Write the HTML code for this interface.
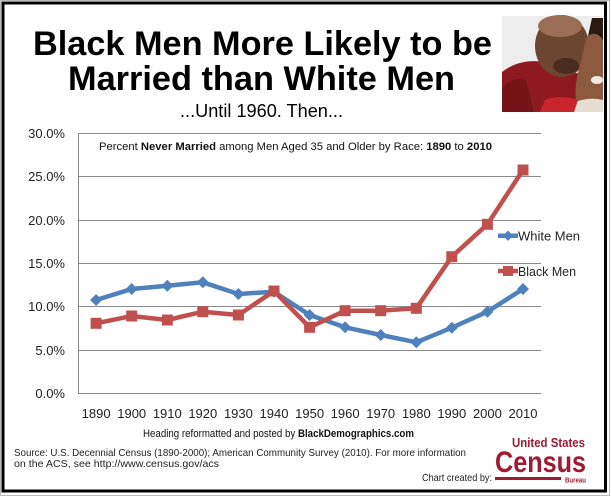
<!DOCTYPE html>
<html><head><meta charset="utf-8"><style>
html,body{margin:0;padding:0;background:#fff;}
svg{display:block;}
text{font-family:"Liberation Sans",Arial,sans-serif;}
</style></head><body>
<svg width="611" height="500" viewBox="0 0 611 500" xmlns="http://www.w3.org/2000/svg">
<rect x="0" y="0" width="611" height="500" fill="#fff"/>
<rect x="0.5" y="0.5" width="609" height="495" fill="none" stroke="#bbb" stroke-width="1"/>
<rect x="3" y="3" width="602.5" height="488" fill="none" stroke="#000" stroke-width="3"/>

<!-- Title -->
<text x="33" y="55" font-size="34" font-weight="bold" textLength="459" lengthAdjust="spacingAndGlyphs">Black Men More Likely to be</text>
<text x="68" y="90" font-size="34" font-weight="bold" textLength="387" lengthAdjust="spacingAndGlyphs">Married than White Men</text>
<text x="180" y="117" font-size="18" textLength="163" lengthAdjust="spacingAndGlyphs">...Until 1960. Then...</text>

<!-- Photo -->
<g>
<rect x="502" y="16" width="101" height="96" fill="#ededed"/>
<path d="M502 72 Q520 58 545 62 L585 76 L588 112 L502 112 Z" fill="#8e1a1f"/>
<path d="M502 112 L502 88 Q512 76 526 80 L534 112 Z" fill="#741418"/>
<ellipse cx="562" cy="46" rx="27" ry="31" fill="#6d4630"/>
<ellipse cx="560" cy="26" rx="22" ry="11" fill="#9a6d55"/>
<ellipse cx="566" cy="66" rx="13" ry="8" fill="#4a2c1f"/>
<path d="M586 38 Q598 26 603 34 L603 112 L578 112 Q572 90 580 66 Z" fill="#8c5a3e"/>
<path d="M592 18 L603 18 L603 40 Q596 30 588 36 Z" fill="#2a1a14"/>
<ellipse cx="597" cy="80" rx="6" ry="4" fill="#f3e9e0"/>
<path d="M570 104 Q588 96 603 100 L603 112 L566 112 Z" fill="#e6ddd5"/>
<path d="M545 100 Q560 94 578 100 L574 112 L540 112 Z" fill="#c8262c"/>
</g>

<!-- Gridlines -->
<g stroke="#8a8a8a" stroke-width="1">
<line x1="78" y1="133.5" x2="541" y2="133.5"/>
<line x1="78" y1="176.5" x2="541" y2="176.5"/>
<line x1="78" y1="220.5" x2="541" y2="220.5"/>
<line x1="78" y1="263.5" x2="541" y2="263.5"/>
<line x1="78" y1="306.5" x2="541" y2="306.5"/>
<line x1="78" y1="350.5" x2="541" y2="350.5"/>
<line x1="78" y1="393.5" x2="541" y2="393.5"/>
<line x1="78.5" y1="133" x2="78.5" y2="394"/>
</g>

<!-- Y labels -->
<g font-size="13" fill="#222" text-anchor="end">
<text x="65" y="138">30.0%</text>
<text x="65" y="181">25.0%</text>
<text x="65" y="225">20.0%</text>
<text x="65" y="268">15.0%</text>
<text x="65" y="311">10.0%</text>
<text x="65" y="355">5.0%</text>
<text x="65" y="398">0.0%</text>
</g>

<!-- X labels -->
<g font-size="13" fill="#222" text-anchor="middle">
<text x="96.1" y="418">1890</text>
<text x="131.7" y="418">1900</text>
<text x="167.3" y="418">1910</text>
<text x="202.8" y="418">1920</text>
<text x="238.4" y="418">1930</text>
<text x="274" y="418">1940</text>
<text x="309.6" y="418">1950</text>
<text x="345.1" y="418">1960</text>
<text x="380.7" y="418">1970</text>
<text x="416.3" y="418">1980</text>
<text x="451.8" y="418">1990</text>
<text x="487.4" y="418">2000</text>
<text x="523" y="418">2010</text>
</g>

<!-- Chart title -->
<text x="99" y="150" font-size="11" fill="#111" textLength="393" lengthAdjust="spacingAndGlyphs">Percent <tspan font-weight="bold">Never Married</tspan> among Men Aged 35 and Older by Race: <tspan font-weight="bold">1890</tspan> to <tspan font-weight="bold">2010</tspan></text>

<!-- White series -->
<polyline fill="none" stroke="#4f81bd" stroke-width="4.5" stroke-linejoin="round"
 points="96.1,300 131.7,289 167.3,285.7 202.8,282.3 238.4,294 274,291.7 309.6,315 345.1,327.3 380.7,335 416.3,342.3 451.8,327.7 487.4,311.7 523,289"/>
<g fill="#4f81bd">
<path d="M96.1 294 l6 6 l-6 6 l-6 -6z"/>
<path d="M131.7 283 l6 6 l-6 6 l-6 -6z"/>
<path d="M167.3 279.7 l6 6 l-6 6 l-6 -6z"/>
<path d="M202.8 276.3 l6 6 l-6 6 l-6 -6z"/>
<path d="M238.4 288 l6 6 l-6 6 l-6 -6z"/>
<path d="M274 285.7 l6 6 l-6 6 l-6 -6z"/>
<path d="M309.6 309 l6 6 l-6 6 l-6 -6z"/>
<path d="M345.1 321.3 l6 6 l-6 6 l-6 -6z"/>
<path d="M380.7 329 l6 6 l-6 6 l-6 -6z"/>
<path d="M416.3 336.3 l6 6 l-6 6 l-6 -6z"/>
<path d="M451.8 321.7 l6 6 l-6 6 l-6 -6z"/>
<path d="M487.4 305.7 l6 6 l-6 6 l-6 -6z"/>
<path d="M523 283 l6 6 l-6 6 l-6 -6z"/>
</g>

<!-- Black series -->
<polyline fill="none" stroke="#c0504d" stroke-width="4.5" stroke-linejoin="round"
 points="96.1,323.3 131.7,316 167.3,320 202.8,311.7 238.4,315 274,291 309.6,327.3 345.1,310.7 380.7,310.7 416.3,308.3 451.8,256.7 487.4,224.3 523,170"/>
<g fill="#c0504d">
<rect x="90.6" y="317.8" width="11" height="11"/>
<rect x="126.2" y="310.5" width="11" height="11"/>
<rect x="161.8" y="314.5" width="11" height="11"/>
<rect x="197.3" y="306.2" width="11" height="11"/>
<rect x="232.9" y="309.5" width="11" height="11"/>
<rect x="268.5" y="285.5" width="11" height="11"/>
<rect x="304.1" y="321.8" width="11" height="11"/>
<rect x="339.6" y="305.2" width="11" height="11"/>
<rect x="375.2" y="305.2" width="11" height="11"/>
<rect x="410.8" y="302.8" width="11" height="11"/>
<rect x="446.3" y="251.2" width="11" height="11"/>
<rect x="481.9" y="218.8" width="11" height="11"/>
<rect x="517.5" y="164.5" width="11" height="11"/>
</g>

<!-- Legend -->
<line x1="498" y1="235.7" x2="518" y2="235.7" stroke="#4f81bd" stroke-width="4.5"/>
<path d="M508 230.5 l5 5.2 l-5 5.2 l-5 -5.2z" fill="#4f81bd"/>
<text x="518" y="240.5" font-size="13" fill="#222" textLength="62" lengthAdjust="spacingAndGlyphs">White Men</text>
<line x1="498" y1="271" x2="518" y2="271" stroke="#c0504d" stroke-width="4.5"/>
<rect x="503" y="266" width="10" height="10" fill="#c0504d"/>
<text x="518" y="276" font-size="13" fill="#222" textLength="58" lengthAdjust="spacingAndGlyphs">Black Men</text>

<!-- Footer -->
<text x="143" y="437" font-size="11" fill="#111" textLength="271" lengthAdjust="spacingAndGlyphs">Heading reformatted and posted by <tspan font-weight="bold">BlackDemographics.com</tspan></text>
<text x="14" y="456" font-size="10.5" fill="#222" textLength="452" lengthAdjust="spacingAndGlyphs">Source:  U.S. Decennial Census (1890-2000); American Community Survey (2010). For more information</text>
<text x="14" y="467" font-size="10.5" fill="#222" textLength="205" lengthAdjust="spacingAndGlyphs">on the ACS, see http://www.census.gov/acs</text>
<text x="422" y="481" font-size="10.5" fill="#222" textLength="70" lengthAdjust="spacingAndGlyphs">Chart created by:</text>

<!-- Census logo -->
<g fill="#9e1b32">
<text x="512" y="447" font-size="13" font-family="Liberation Serif,serif" font-weight="bold" textLength="73" lengthAdjust="spacingAndGlyphs">United States</text>
<text x="495" y="472" font-size="30" font-weight="bold" textLength="91" lengthAdjust="spacingAndGlyphs">Census</text>
<rect x="495" y="477" width="66" height="3"/>
<text x="565" y="482.5" font-size="7" font-weight="bold" textLength="21" lengthAdjust="spacingAndGlyphs">Bureau</text>
</g>
</svg>
</body></html>
